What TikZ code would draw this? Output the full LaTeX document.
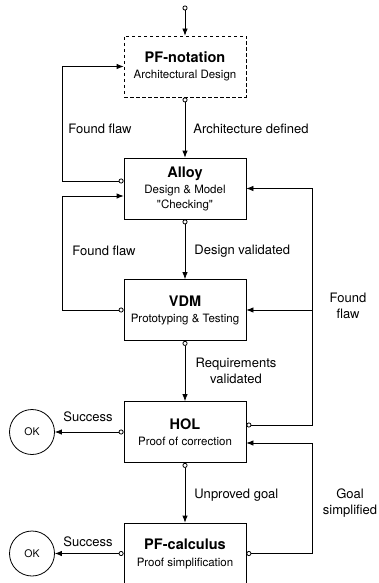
\documentclass[tikz,border=0pt]{standalone}
\usepackage{fontspec}
\setmainfont{TeX Gyre Heros}
\usetikzlibrary{arrows.meta}

\begin{document}
\begin{tikzpicture}[x=1pt,y=-1pt,line width=0.8pt,
  stage/.style={draw, rectangle, minimum width=122pt, minimum height=61pt, align=center, inner sep=0pt, font=\fontsize{11.5}{15}\selectfont},
  okstate/.style={draw, circle, minimum size=45pt, inner sep=0pt, font=\fontsize{10.5}{12}\selectfont},
  flow/.style={-{Latex[length=7pt,width=5.5pt]}},
  outflow/.style={{Circle[open,length=5pt,width=5pt]}-{Latex[length=7pt,width=5.5pt]}},
  lbl/.style={font=\fontsize{13}{15.5}\selectfont, align=center, inner sep=0pt}]
\useasboundingbox (0,0) rectangle (378,583);
\coordinate (start) at (185,5.5);
\node[stage, dash pattern=on 3.5pt off 2.5pt] (pfnot) at (185,66.5) {{\fontsize{14.5}{16}\selectfont\bfseries PF-notation}\\[1pt]Architectural Design};
\node[stage] (alloy) at (185,188.5) {{\fontsize{14.5}{16}\selectfont\bfseries Alloy}\\[1pt]Design \& Model\\\textquotedbl Checking\textquotedbl};
\node[stage] (vdm) at (185,310) {{\fontsize{14.5}{16}\selectfont\bfseries VDM}\\[1pt]Prototyping \& Testing};
\node[stage] (hol) at (185,432) {{\fontsize{14.5}{16}\selectfont\bfseries HOL}\\[1pt]Proof of correction};
\node[stage] (pfcalc) at (185,553.5) {{\fontsize{14.5}{16}\selectfont\bfseries PF-calculus}\\[2pt]Proof simplification};
\node[okstate] (okhol) at (32,432) {OK};
\node[okstate] (okcalc) at (32,553.5) {OK};

% main flow
\draw[outflow] (start) -- (pfnot.north);
\draw[outflow] (pfnot.south) -- (alloy.north);
\draw[outflow] (alloy.south) -- (vdm.north);
\draw[outflow] (vdm.south) -- (hol.north);
\draw[outflow] (hol.south) -- (pfcalc.north);
\draw[outflow] (hol.west) -- (okhol.east);
\draw[outflow] (pfcalc.west) -- (okcalc.east);

% feedback loops
\draw[outflow] ([yshift=7.5pt]alloy.west) -- ++(-61,0) |- (pfnot.west);
\draw[outflow] (vdm.west) -- ++(-61,0) |- ([yshift=-7.5pt]alloy.west);
\draw[outflow] ([yshift=7pt]hol.east) -- ++(66,0) |- (alloy.east);
\draw[flow] ([xshift=66pt]vdm.east) -- (vdm.east);
\draw[outflow] (pfcalc.east) -- ++(66,0) |- ([yshift=-11pt]hol.east);

% labels
\node[lbl] (flaw1) at (100,129) {Found flaw};
\node[lbl, anchor=west] (archdef) at (193,129) {Architecture defined};
\node[lbl] (flaw2) at (104,251) {Found flaw};
\node[lbl, anchor=west] (designval) at (194,251) {Design validated};
\node[lbl] (reqval) at (236,371) {Requirements\\validated};
\node[lbl] (flaw3) at (348,306) {Found\\flaw};
\node[lbl, anchor=west] (unproved) at (194,495) {Unproved goal};
\node[lbl] (goalsimp) at (350,503) {Goal\\simplified};
\node[lbl] (succ1) at (88,417) {Success};
\node[lbl] (succ2) at (88,542) {Success};
\end{tikzpicture}
\end{document}
